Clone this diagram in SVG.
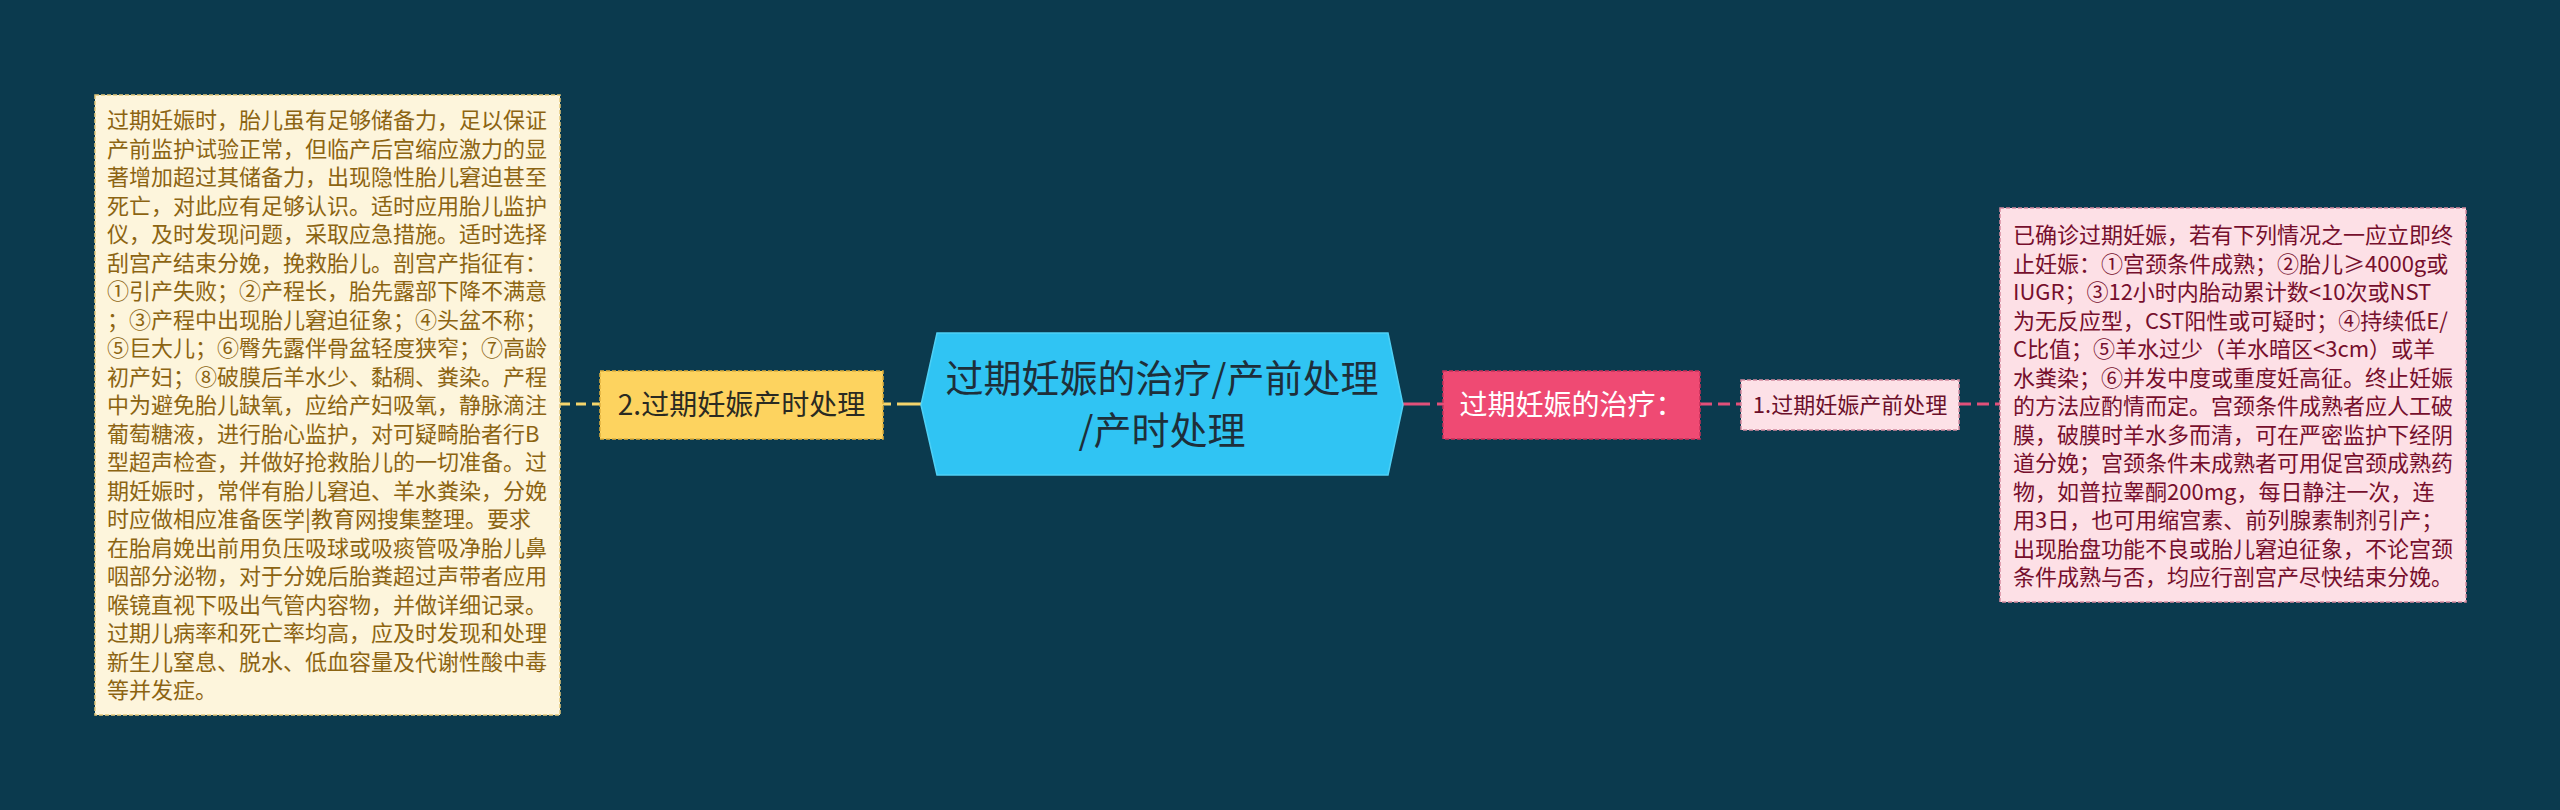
<svg xmlns="http://www.w3.org/2000/svg" width="2560" height="810" viewBox="0 0 2560 810">
<style>
text{font-family:"Noto Sans CJK SC","Noto Sans",sans-serif;}
.lt{font-size:22px;fill:#8c6412;}
.rt{font-size:22px;fill:#760f2d;}
.edge{fill:none;stroke-width:3;}
</style>
<rect x="0" y="0" width="2560" height="810" fill="#0b3a4e"/>
<g id="connectors">
<path class="edge" d="M560 404 H600" stroke="#f5d56c" stroke-dasharray="10 6"/>
<path class="edge" d="M883 404 H921" stroke="#f5d56c" stroke-dasharray="8 6 100"/>
<path class="edge" d="M1403 404 H1443" stroke="#e2507a" stroke-dasharray="27 7 10"/>
<path class="edge" d="M1700 404 H1741" stroke="#e2507a" stroke-dasharray="12 6"/>
<path class="edge" d="M1959 404 H2000" stroke="#e2507a" stroke-dasharray="12 6"/>
</g>
<g id="center">
<polygon points="937,333 1388,333 1403,405 1388,475 937,475 921,405" fill="#30c4f3" stroke="#4fd0f5" stroke-width="1.5"/>
<text x="1162" y="392" font-size="38" fill="#1e2f3a" text-anchor="middle">过期妊娠的治疗/产前处理</text>
<text x="1162" y="444" font-size="38" fill="#1e2f3a" text-anchor="middle">/产时处理</text>
</g>
<g id="node-intrapartum">
<rect x="600" y="371" width="283" height="68" fill="#fdd35f" stroke="#e0b03c" stroke-width="1.5" stroke-dasharray="4 2"/>
<text x="741.5" y="415" font-size="28" fill="#2a2a22" text-anchor="middle">2.过期妊娠产时处理</text>
</g>
<g id="node-intrapartum-detail">
<rect x="95" y="95" width="465" height="620" fill="#fdf5dc" stroke="#e3c77a" stroke-width="1.5" stroke-dasharray="4 2"/>
<text class="lt" x="107" y="128">过期妊娠时，胎儿虽有足够储备力，足以保证</text>
<text class="lt" x="107" y="156.5">产前监护试验正常，但临产后宫缩应激力的显</text>
<text class="lt" x="107" y="185">著增加超过其储备力，出现隐性胎儿窘迫甚至</text>
<text class="lt" x="107" y="213.5">死亡，对此应有足够认识。适时应用胎儿监护</text>
<text class="lt" x="107" y="242">仪，及时发现问题，采取应急措施。适时选择</text>
<text class="lt" x="107" y="270.5">刮宫产结束分娩，挽救胎儿。剖宫产指征有：</text>
<text class="lt" x="107" y="299">①引产失败；②产程长，胎先露部下降不满意</text>
<text class="lt" x="107" y="327.5">；③产程中出现胎儿窘迫征象；④头盆不称；</text>
<text class="lt" x="107" y="356">⑤巨大儿；⑥臀先露伴骨盆轻度狭窄；⑦高龄</text>
<text class="lt" x="107" y="384.5">初产妇；⑧破膜后羊水少、黏稠、粪染。产程</text>
<text class="lt" x="107" y="413">中为避免胎儿缺氧，应给产妇吸氧，静脉滴注</text>
<text class="lt" x="107" y="441.5">葡萄糖液，进行胎心监护，对可疑畸胎者行B</text>
<text class="lt" x="107" y="470">型超声检查，并做好抢救胎儿的一切准备。过</text>
<text class="lt" x="107" y="498.5">期妊娠时，常伴有胎儿窘迫、羊水粪染，分娩</text>
<text class="lt" x="107" y="527">时应做相应准备医学|教育网搜集整理。要求</text>
<text class="lt" x="107" y="555.5">在胎肩娩出前用负压吸球或吸痰管吸净胎儿鼻</text>
<text class="lt" x="107" y="584">咽部分泌物，对于分娩后胎粪超过声带者应用</text>
<text class="lt" x="107" y="612.5">喉镜直视下吸出气管内容物，并做详细记录。</text>
<text class="lt" x="107" y="641">过期儿病率和死亡率均高，应及时发现和处理</text>
<text class="lt" x="107" y="669.5">新生儿窒息、脱水、低血容量及代谢性酸中毒</text>
<text class="lt" x="107" y="698">等并发症。</text>
</g>
<g id="node-treatment">
<rect x="1443" y="371" width="257" height="68" fill="#ef4a73" stroke="#c73059" stroke-width="1.5" stroke-dasharray="4 2"/>
<text x="1571.5" y="415" font-size="28" fill="#ffffff" text-anchor="middle">过期妊娠的治疗：</text>
</g>
<g id="node-antepartum">
<rect x="1741" y="380" width="218" height="50" fill="#fde1e7" stroke="#d48aa0" stroke-width="1.5" stroke-dasharray="4 2"/>
<text x="1850" y="413" font-size="22" fill="#6b0f2a" text-anchor="middle">1.过期妊娠产前处理</text>
</g>
<g id="node-antepartum-detail">
<rect x="2000" y="208" width="466" height="394" fill="#fde0e6" stroke="#d88aa0" stroke-width="1.5" stroke-dasharray="4 2"/>
<text class="rt" x="2013" y="243">已确诊过期妊娠，若有下列情况之一应立即终</text>
<text class="rt" x="2013" y="271.5">止妊娠：①宫颈条件成熟；②胎儿≥4000g或</text>
<text class="rt" x="2013" y="300">IUGR；③12小时内胎动累计数&lt;10次或NST</text>
<text class="rt" x="2013" y="328.5">为无反应型，CST阳性或可疑时；④持续低E/</text>
<text class="rt" x="2013" y="357">C比值；⑤羊水过少（羊水暗区&lt;3cm）或羊</text>
<text class="rt" x="2013" y="385.5">水粪染；⑥并发中度或重度妊高征。终止妊娠</text>
<text class="rt" x="2013" y="414">的方法应酌情而定。宫颈条件成熟者应人工破</text>
<text class="rt" x="2013" y="442.5">膜，破膜时羊水多而清，可在严密监护下经阴</text>
<text class="rt" x="2013" y="471">道分娩；宫颈条件未成熟者可用促宫颈成熟药</text>
<text class="rt" x="2013" y="499.5">物，如普拉睾酮200mg，每日静注一次，连</text>
<text class="rt" x="2013" y="528">用3日，也可用缩宫素、前列腺素制剂引产；</text>
<text class="rt" x="2013" y="556.5">出现胎盘功能不良或胎儿窘迫征象，不论宫颈</text>
<text class="rt" x="2013" y="585">条件成熟与否，均应行剖宫产尽快结束分娩。</text>
</g>
</svg>
